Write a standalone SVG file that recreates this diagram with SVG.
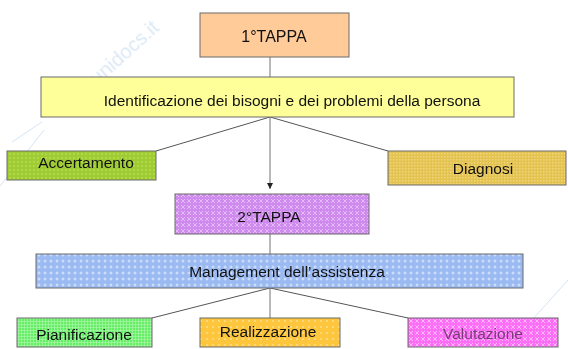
<svg xmlns="http://www.w3.org/2000/svg" width="568" height="349" viewBox="0 0 568 349">
<defs>
<style>
.box{stroke:#6a6a6a;stroke-width:1}
.t{font-family:"Liberation Sans",Arial,sans-serif;font-size:15.5px;fill:#111;text-anchor:middle}
.c{stroke:#555;stroke-width:1;fill:none}
.v{stroke:#8a8a8a;stroke-width:1.2;fill:none}
.wm{stroke:#cfe0f3;stroke-width:1;fill:none}
</style>
<pattern id="pGreen" width="4" height="4" patternUnits="userSpaceOnUse">
<rect width="4" height="4" fill="#9fcc33"/><circle cx="2" cy="2" r="0.9" fill="#b9dd55"/>
</pattern>
<pattern id="pGold" width="3" height="3" patternUnits="userSpaceOnUse">
<rect width="3" height="3" fill="#e3c250"/><rect width="1.5" height="1.5" fill="#f0d67a"/>
</pattern>
<pattern id="pViolet" width="6" height="6" patternUnits="userSpaceOnUse">
<rect width="6" height="6" fill="#cf8aee"/><path d="M1 1L5 5M5 1L1 5" stroke="#ecc6fb" stroke-width="0.8"/>
</pattern>
<pattern id="pBlue" width="6" height="6" patternUnits="userSpaceOnUse">
<rect width="6" height="6" fill="#9bbaf2"/><path d="M3 1.5V4.5M1.5 3H4.5" stroke="#e0ebff" stroke-width="0.9"/>
</pattern>
<pattern id="pLime" width="3" height="3" patternUnits="userSpaceOnUse">
<rect width="3" height="3" fill="#66ee66"/><path d="M0 0.5H3M0.5 0V3" stroke="#a8f7a8" stroke-width="0.7"/>
</pattern>
<pattern id="pOrange" width="6" height="6" patternUnits="userSpaceOnUse">
<rect width="6" height="6" fill="#fdc63c"/><circle cx="3" cy="3" r="0.8" fill="#fff0c0"/>
</pattern>
<pattern id="pPink" width="6" height="6" patternUnits="userSpaceOnUse">
<rect width="6" height="6" fill="#fb6ef5"/><path d="M1 1L5 5M5 1L1 5" stroke="#ffc6fb" stroke-width="0.8"/>
</pattern>
<marker id="arr" markerWidth="7" markerHeight="6" refX="6" refY="3" orient="auto" markerUnits="userSpaceOnUse">
<path d="M0 0L6 3L0 6z" fill="#222"/>
</marker>
</defs>

<g id="watermark" opacity="0.9">
<text x="0" y="0" transform="translate(62,118) rotate(-42)" style="font-family:'Liberation Sans',Arial,sans-serif;font-size:20px;fill:#d8e6f5">www.unidocs.it</text>
<path class="wm" d="M0 186L44 130"/>
<path class="wm" d="M12 142L42 122"/>
<path class="wm" d="M568 280L523 330"/>
</g>

<g id="connectors">
<path class="v" d="M270 57V77"/>
<path class="c" d="M270 117L156 151"/>
<path class="c" d="M270 117L388 151"/>
<path class="v" d="M270 117V189" marker-end="url(#arr)"/>
<path class="v" d="M270 234V254"/>
<path class="c" d="M270 288L152 318"/>
<path class="v" d="M270 288V318"/>
<path class="c" d="M270 288L408 318"/>
</g>

<g id="n-tappa1">
<rect class="box" x="200" y="13" width="149" height="44" fill="#ffcc99"/>
<text class="t" x="274" y="42" style="font-size:16px">1°TAPPA</text>
</g>

<g id="n-identificazione">
<rect class="box" x="41" y="77" width="473" height="40" fill="#ffff99"/>
<text class="t" x="292" y="106">Identificazione dei bisogni e dei problemi della persona</text>
</g>

<g id="n-accertamento">
<rect class="box" x="7" y="151" width="149" height="29" fill="url(#pGreen)"/>
<text class="t" x="86" y="168">Accertamento</text>
</g>

<g id="n-diagnosi">
<rect class="box" x="388" y="151" width="178" height="34" fill="url(#pGold)"/>
<text class="t" x="483" y="174">Diagnosi</text>
</g>

<g id="n-tappa2">
<rect class="box" x="175" y="194" width="194" height="40" fill="url(#pViolet)"/>
<text class="t" x="269" y="222">2°TAPPA</text>
</g>

<g id="n-management">
<rect class="box" x="36" y="254" width="487" height="34" fill="url(#pBlue)"/>
<text class="t" x="287" y="277">Management dell’assistenza</text>
</g>

<g id="n-pianificazione">
<rect class="box" x="17" y="318" width="135" height="29" fill="url(#pLime)"/>
<text class="t" x="84" y="340">Pianificazione</text>
</g>

<g id="n-realizzazione">
<rect class="box" x="200" y="318" width="140" height="29" fill="url(#pOrange)"/>
<text class="t" x="268" y="337">Realizzazione</text>
</g>

<g id="n-valutazione">
<rect class="box" x="408" y="318" width="150" height="29" fill="url(#pPink)"/>
<text class="t" x="483" y="339" style="fill:#7a3a78">Valutazione</text>
</g>
</svg>
